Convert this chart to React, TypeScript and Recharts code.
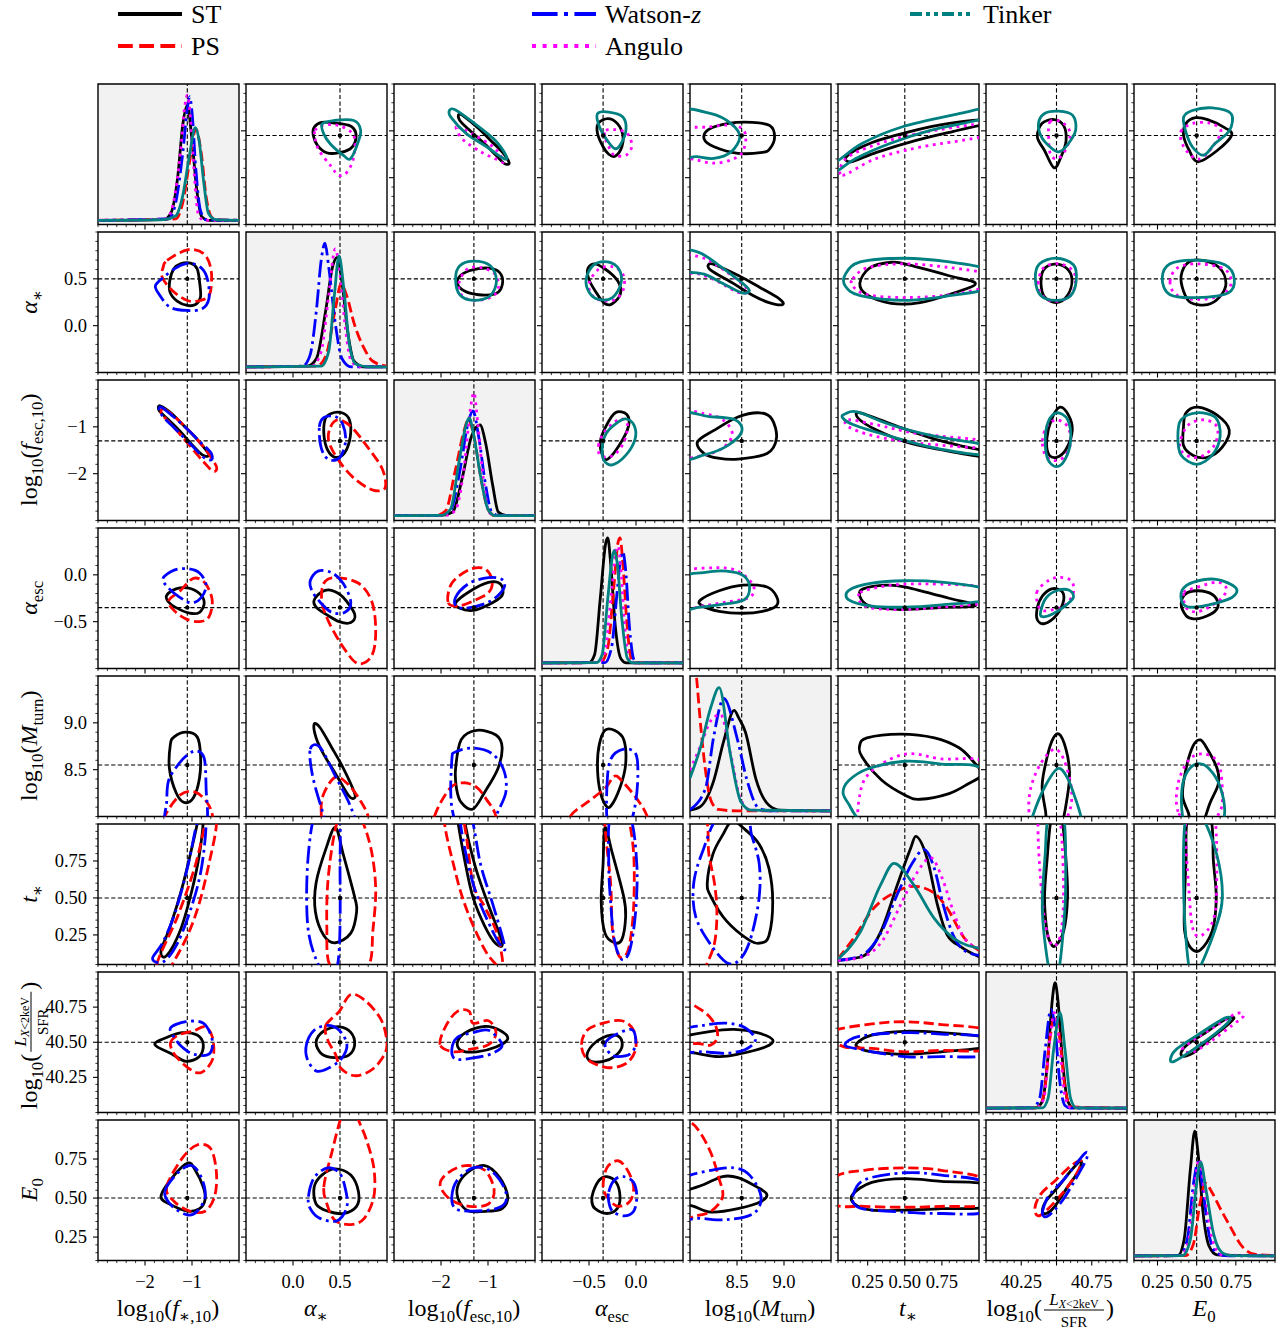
import React from 'react';
import { ComposedChart, Scatter, XAxis, YAxis, ReferenceLine, ReferenceDot, ReferenceArea, CartesianGrid } from 'recharts';

type Pt = [number, number];

// ---------------- parameters (axis ranges, fiducial values, ticks) ----------------
const PARAM_MIN = [-3, -0.5, -3, -1, 8, 0.05, 40, 0.1];
const PARAM_MAX = [0, 1, 0, 0.5, 9.5, 1, 41, 1];
const PARAM_FID = [-1.1, 0.5, -1.3, -0.35, 8.55, 0.5, 40.5, 0.5];
const PARAM_MAJOR = [[-2, -1], [0, 0.5], [-2, -1], [-0.5, 0], [8.5, 9], [0.25, 0.5, 0.75], [40.25, 40.5, 40.75], [0.25, 0.5, 0.75]];
const PARAM_MINOR_STEP = [0.2, 0.1, 0.2, 0.1, 0.1, 0.05, 0.05, 0.05];
const X_TICK_LABELS = [['−2', '−1'], ['0.0', '0.5'], ['−2', '−1'], ['−0.5', '0.0'], ['8.5', '9.0'], ['0.25', '0.50', '0.75'], ['40.25', '', '40.75'], ['0.25', '0.50', '0.75']];
const Y_TICK_LABELS = [['−2', '−1'], ['0.0', '0.5'], ['−2', '−1'], ['−0.5', '0.0'], ['8.5', '9.0'], ['0.25', '0.50', '0.75'], ['40.25', '40.50', '40.75'], ['0.25', '0.50', '0.75']];

// ---------------- 1D marginals (x = parameter value, y = normalised density) ----------------
const ST_1D: Pt[][] = [
  [[-3, 0.03], [-1.6, 0.035], [-1.45, 0.08], [-1.3, 0.35], [-1.2, 0.7], [-1.1, 0.85], [-1.0, 0.6], [-0.9, 0.25], [-0.8, 0.06], [-0.65, 0.03], [0, 0.03]],
  [[-0.5, 0.04], [0.15, 0.045], [0.25, 0.1], [0.35, 0.45], [0.42, 0.75], [0.47, 0.82], [0.52, 0.65], [0.58, 0.3], [0.65, 0.08], [0.75, 0.04], [1.0, 0.04]],
  [[-3, 0.034], [-2.0, 0.036], [-1.75, 0.06], [-1.55, 0.3], [-1.35, 0.6], [-1.17, 0.68], [-1.05, 0.55], [-0.9, 0.25], [-0.78, 0.06], [-0.6, 0.034], [0, 0.034]],
  [[-1, 0.04], [-0.5, 0.042], [-0.44, 0.1], [-0.38, 0.5], [-0.32, 0.9], [-0.3, 0.93], [-0.27, 0.75], [-0.22, 0.3], [-0.16, 0.07], [-0.1, 0.04], [0.5, 0.04]],
  [[8.0, 0.045], [8.11, 0.07], [8.25, 0.25], [8.36, 0.54], [8.47, 0.755], [8.52, 0.7], [8.59, 0.6], [8.7, 0.27], [8.84, 0.08], [8.96, 0.045], [9.5, 0.04]],
  [[0.05, 0.03], [0.21, 0.055], [0.337, 0.23], [0.45, 0.567], [0.54, 0.829], [0.573, 0.912], [0.65, 0.757], [0.72, 0.424], [0.786, 0.21], [0.876, 0.127], [1.0, 0.055]],
  [[40, 0.031], [40.35, 0.033], [40.4, 0.08], [40.44, 0.4], [40.47, 0.8], [40.49, 0.924], [40.51, 0.8], [40.54, 0.4], [40.58, 0.08], [40.62, 0.033], [41, 0.031]],
  [[0.1, 0.033], [0.38, 0.035], [0.42, 0.15], [0.46, 0.65], [0.488, 0.92], [0.51, 0.75], [0.54, 0.35], [0.58, 0.1], [0.63, 0.04], [1.0, 0.033]],
];
const PS_1D: Pt[][] = [
  [[-3, 0.03], [-1.35, 0.04], [-1.2, 0.15], [-1.05, 0.45], [-0.92, 0.68], [-0.8, 0.5], [-0.7, 0.2], [-0.6, 0.06], [-0.5, 0.035], [0, 0.03]],
  [[-0.5, 0.04], [0.25, 0.045], [0.35, 0.12], [0.45, 0.45], [0.51, 0.63], [0.57, 0.55], [0.65, 0.35], [0.75, 0.18], [0.85, 0.08], [1.0, 0.045]],
  [[-3, 0.034], [-2.1, 0.036], [-1.9, 0.07], [-1.7, 0.35], [-1.5, 0.65], [-1.42, 0.72], [-1.3, 0.6], [-1.15, 0.3], [-1.0, 0.08], [-0.85, 0.034], [0, 0.034]],
  [[-1, 0.04], [-0.38, 0.042], [-0.3, 0.15], [-0.24, 0.55], [-0.19, 0.9], [-0.17, 0.93], [-0.14, 0.75], [-0.1, 0.35], [-0.05, 0.07], [0.0, 0.04], [0.5, 0.04]],
  [[8.0, 1.3], [8.06, 1.05], [8.12, 0.6], [8.17, 0.3], [8.22, 0.12], [8.3, 0.05], [8.5, 0.04], [9.5, 0.04]],
  [[0.05, 0.04], [0.157, 0.19], [0.29, 0.4], [0.427, 0.51], [0.56, 0.557], [0.697, 0.51], [0.786, 0.4], [0.9, 0.19], [1.0, 0.1]],
  [[40, 0.031], [40.36, 0.033], [40.41, 0.12], [40.45, 0.5], [40.49, 0.69], [40.52, 0.55], [40.56, 0.18], [40.6, 0.04], [41, 0.031]],
  [[0.1, 0.033], [0.43, 0.035], [0.48, 0.12], [0.52, 0.4], [0.556, 0.55], [0.6, 0.48], [0.66, 0.35], [0.71, 0.25], [0.79, 0.1], [0.87, 0.045], [1.0, 0.035]],
];
const WATSON_1D: Pt[][] = [
  [[-3, 0.03], [-1.5, 0.04], [-1.35, 0.15], [-1.2, 0.5], [-1.1, 0.82], [-1.05, 0.91], [-1.0, 0.8], [-0.92, 0.4], [-0.82, 0.1], [-0.7, 0.035], [0, 0.03]],
  [[-0.5, 0.04], [0.1, 0.045], [0.18, 0.12], [0.25, 0.45], [0.3, 0.8], [0.34, 0.92], [0.38, 0.75], [0.45, 0.35], [0.52, 0.1], [0.62, 0.04], [1.0, 0.04]],
  [[-3, 0.034], [-2.0, 0.036], [-1.8, 0.07], [-1.6, 0.35], [-1.42, 0.7], [-1.32, 0.78], [-1.2, 0.6], [-1.05, 0.25], [-0.92, 0.06], [-0.75, 0.034], [0, 0.034]],
  [[-1, 0.04], [-0.33, 0.042], [-0.26, 0.15], [-0.2, 0.55], [-0.16, 0.8], [-0.14, 0.83], [-0.11, 0.7], [-0.07, 0.3], [-0.02, 0.06], [0.03, 0.04], [0.5, 0.04]],
  [[8.0, 0.048], [8.165, 0.2], [8.25, 0.56], [8.36, 0.84], [8.5, 0.56], [8.61, 0.25], [8.73, 0.06], [8.85, 0.04], [9.5, 0.04]],
  [[0.05, 0.03], [0.2, 0.06], [0.337, 0.22], [0.45, 0.5], [0.55, 0.72], [0.63, 0.82], [0.7, 0.68], [0.76, 0.42], [0.83, 0.2], [0.9, 0.1], [1.0, 0.065]],
  [[40, 0.031], [40.33, 0.033], [40.38, 0.1], [40.42, 0.45], [40.46, 0.733], [40.49, 0.6], [40.52, 0.25], [40.56, 0.05], [40.6, 0.031], [41, 0.031]],
  [[0.1, 0.033], [0.39, 0.035], [0.44, 0.15], [0.48, 0.55], [0.51, 0.7], [0.54, 0.5], [0.58, 0.18], [0.63, 0.05], [0.7, 0.033], [1.0, 0.033]],
];
const ANGULO_1D: Pt[][] = [
  [[-3, 0.03], [-1.55, 0.04], [-1.4, 0.15], [-1.25, 0.5], [-1.15, 0.85], [-1.1, 0.92], [-1.03, 0.75], [-0.95, 0.35], [-0.87, 0.08], [-0.75, 0.03], [0, 0.03]],
  [[-0.5, 0.04], [0.2, 0.045], [0.3, 0.15], [0.38, 0.55], [0.45, 0.88], [0.5, 0.7], [0.56, 0.3], [0.62, 0.08], [0.72, 0.04], [1.0, 0.04]],
  [[-3, 0.034], [-1.9, 0.036], [-1.7, 0.07], [-1.5, 0.4], [-1.38, 0.78], [-1.3, 0.91], [-1.22, 0.7], [-1.1, 0.3], [-0.98, 0.06], [-0.85, 0.034], [0, 0.034]],
  [[-1, 0.04], [-0.4, 0.042], [-0.33, 0.12], [-0.26, 0.55], [-0.21, 0.85], [-0.19, 0.87], [-0.16, 0.7], [-0.12, 0.3], [-0.07, 0.06], [-0.02, 0.04], [0.5, 0.04]],
  [[8.0, 0.33], [8.11, 0.5], [8.22, 0.68], [8.325, 0.726], [8.43, 0.45], [8.54, 0.12], [8.65, 0.045], [9.5, 0.04]],
  [[0.05, 0.03], [0.2, 0.05], [0.35, 0.17], [0.47, 0.42], [0.58, 0.65], [0.675, 0.76], [0.75, 0.62], [0.82, 0.4], [0.9, 0.19], [1.0, 0.115]],
  [[40, 0.031], [40.36, 0.033], [40.41, 0.1], [40.45, 0.5], [40.485, 0.71], [40.52, 0.5], [40.56, 0.12], [40.6, 0.035], [41, 0.031]],
  [[0.1, 0.033], [0.4, 0.035], [0.45, 0.15], [0.49, 0.55], [0.515, 0.72], [0.55, 0.5], [0.6, 0.15], [0.66, 0.04], [1.0, 0.033]],
];
const TINKER_1D: Pt[][] = [
  [[-3, 0.03], [-1.6, 0.035], [-1.35, 0.06], [-1.2, 0.2], [-1.05, 0.5], [-0.93, 0.69], [-0.85, 0.6], [-0.75, 0.3], [-0.65, 0.08], [-0.5, 0.035], [0, 0.03]],
  [[-0.5, 0.04], [0.3, 0.045], [0.38, 0.15], [0.44, 0.55], [0.49, 0.83], [0.54, 0.6], [0.6, 0.2], [0.67, 0.06], [0.8, 0.04], [1.0, 0.04]],
  [[-3, 0.034], [-2.0, 0.036], [-1.8, 0.08], [-1.6, 0.45], [-1.45, 0.7], [-1.4, 0.73], [-1.3, 0.6], [-1.15, 0.3], [-1.0, 0.08], [-0.85, 0.034], [0, 0.034]],
  [[-1, 0.04], [-0.42, 0.042], [-0.36, 0.1], [-0.3, 0.5], [-0.25, 0.8], [-0.23, 0.84], [-0.2, 0.75], [-0.15, 0.35], [-0.09, 0.07], [-0.03, 0.04], [0.5, 0.04]],
  [[8.0, 0.274], [8.11, 0.488], [8.22, 0.774], [8.31, 0.917], [8.43, 0.44], [8.54, 0.107], [8.65, 0.045], [9.5, 0.04]],
  [[0.05, 0.04], [0.2, 0.23], [0.337, 0.567], [0.427, 0.72], [0.56, 0.567], [0.697, 0.33], [0.83, 0.186], [1.0, 0.115]],
  [[40, 0.031], [40.4, 0.033], [40.44, 0.1], [40.48, 0.45], [40.525, 0.71], [40.56, 0.45], [40.6, 0.1], [40.64, 0.033], [41, 0.031]],
  [[0.1, 0.033], [0.41, 0.035], [0.46, 0.15], [0.5, 0.55], [0.525, 0.7], [0.56, 0.5], [0.61, 0.18], [0.67, 0.05], [0.73, 0.035], [1.0, 0.033]],
];

// ---------------- 2D contours, keyed "row-col" (x = column parameter, y = row parameter) ----------------
// ST: lower-triangle panels (the upper triangle shows the same contour transposed)
const ST_2D: Record<string, Pt[]> = {
  '1-0': [[-1.245, 0.66], [-1.032, 0.667], [-0.89, 0.607], [-0.834, 0.447], [-0.82, 0.304], [-0.926, 0.226], [-1.1, 0.216], [-1.316, 0.262], [-1.468, 0.358], [-1.472, 0.482], [-1.387, 0.607]],
  '2-0': [[-1.68, -0.55], [-1.45, -0.7], [-1.2, -0.95], [-0.95, -1.2], [-0.7, -1.5], [-0.65, -1.62], [-0.78, -1.6], [-1.0, -1.38], [-1.25, -1.1], [-1.5, -0.85], [-1.7, -0.65]],
  '2-1': [[0.34, -0.85], [0.4, -0.72], [0.52, -0.7], [0.6, -0.85], [0.61, -1.2], [0.55, -1.55], [0.45, -1.65], [0.37, -1.5], [0.33, -1.2]],
  '3-0': [[-1.54, -0.22], [-1.34, -0.15], [-1.09, -0.14], [-0.84, -0.2], [-0.74, -0.3], [-0.84, -0.4], [-1.05, -0.41], [-1.34, -0.35], [-1.5, -0.29]],
  '3-1': [[0.225, -0.27], [0.307, -0.18], [0.41, -0.165], [0.533, -0.24], [0.656, -0.42], [0.615, -0.51], [0.492, -0.5], [0.349, -0.42], [0.246, -0.345]],
  '3-2': [[-1.69, -0.3], [-1.4, -0.18], [-0.99, -0.08], [-0.73, -0.1], [-0.7, -0.22], [-0.99, -0.32], [-1.32, -0.38], [-1.61, -0.355]],
  '4-0': [[-1.46, 8.77], [-1.38, 8.85], [-1.13, 8.9], [-0.89, 8.85], [-0.82, 8.665], [-0.84, 8.41], [-0.97, 8.2], [-1.17, 8.15], [-1.34, 8.256], [-1.48, 8.51]],
  '4-1': [[0.225, 8.985], [0.287, 8.95], [0.41, 8.74], [0.533, 8.52], [0.648, 8.27], [0.656, 8.2], [0.594, 8.22], [0.451, 8.46], [0.328, 8.66], [0.246, 8.84]],
  '4-2': [[-1.69, 8.51], [-1.57, 8.82], [-1.24, 8.92], [-0.83, 8.87], [-0.7, 8.74], [-0.79, 8.51], [-1.07, 8.26], [-1.32, 8.08], [-1.57, 8.15], [-1.67, 8.3]],
  '4-3': [[-0.39, 8.77], [-0.33, 8.92], [-0.23, 8.92], [-0.13, 8.82], [-0.11, 8.56], [-0.17, 8.31], [-0.27, 8.11], [-0.33, 8.13], [-0.39, 8.31], [-0.41, 8.56]],
  '5-0': [[-1.66, 0.14], [-1.46, 0.31], [-1.21, 0.57], [-1.01, 0.83], [-0.89, 1.0], [-0.85, 1.1], [-0.76, 1.05], [-0.84, 0.8], [-1.01, 0.54], [-1.25, 0.28], [-1.54, 0.11]],
  '5-1': [[0.451, 0.976], [0.533, 0.798], [0.656, 0.506], [0.677, 0.408], [0.615, 0.262], [0.451, 0.197], [0.328, 0.246], [0.238, 0.408], [0.246, 0.603], [0.349, 0.83]],
  '5-2': [[-1.65, 1.05], [-1.48, 0.73], [-1.32, 0.505], [-1.07, 0.31], [-0.83, 0.19], [-0.7, 0.2], [-0.99, 0.45], [-1.24, 0.68], [-1.4, 0.87], [-1.53, 1.05]],
  '5-3': [[-0.33, 0.976], [-0.25, 0.798], [-0.13, 0.506], [-0.11, 0.376], [-0.15, 0.22], [-0.23, 0.197], [-0.33, 0.262], [-0.37, 0.473], [-0.35, 0.733]],
  '5-4': [[8.45, 1.02], [8.59, 0.96], [8.736, 0.863], [8.84, 0.7], [8.88, 0.473], [8.84, 0.245], [8.756, 0.196], [8.634, 0.213], [8.39, 0.343], [8.225, 0.506], [8.184, 0.603], [8.245, 0.798], [8.35, 0.928]],
  '6-0': [[-1.79, 40.483], [-1.54, 40.534], [-1.21, 40.568], [-0.89, 40.551], [-0.76, 40.483], [-0.84, 40.398], [-1.13, 40.364], [-1.42, 40.415]],
  '6-1': [[0.246, 40.5], [0.328, 40.58], [0.492, 40.61], [0.615, 40.57], [0.656, 40.483], [0.594, 40.408], [0.451, 40.39], [0.307, 40.415]],
  '6-2': [[-1.65, 40.5], [-1.48, 40.568], [-1.07, 40.612], [-0.75, 40.585], [-0.58, 40.524], [-0.83, 40.466], [-1.24, 40.432], [-1.57, 40.442]],
  '6-3': [[-0.52, 40.415], [-0.43, 40.5], [-0.27, 40.551], [-0.17, 40.534], [-0.15, 40.466], [-0.23, 40.398], [-0.35, 40.364], [-0.48, 40.364]],
  '6-4': [[7.9, 40.53], [8.225, 40.578], [8.47, 40.592], [8.715, 40.568], [8.88, 40.517], [8.8, 40.466], [8.51, 40.415], [8.306, 40.398], [8.06, 40.422], [7.9, 40.44]],
  '6-5': [[0.175, 40.49], [0.278, 40.551], [0.5, 40.578], [0.746, 40.568], [1.05, 40.534], [1.05, 40.466], [0.746, 40.432], [0.5, 40.415], [0.278, 40.432], [0.2, 40.456]],
  '7-0': [[-1.66, 0.509], [-1.42, 0.631], [-1.09, 0.724], [-0.93, 0.678], [-0.76, 0.57], [-0.72, 0.493], [-0.84, 0.432], [-1.09, 0.416], [-1.42, 0.453]],
  '7-1': [[0.225, 0.57], [0.307, 0.647], [0.451, 0.687], [0.615, 0.647], [0.697, 0.539], [0.676, 0.447], [0.533, 0.401], [0.369, 0.416], [0.246, 0.462]],
  '7-2': [[-1.65, 0.57], [-1.44, 0.662], [-1.07, 0.708], [-0.75, 0.631], [-0.58, 0.509], [-0.7, 0.432], [-0.99, 0.416], [-1.4, 0.416], [-1.61, 0.478]],
  '7-3': [[-0.455, 0.54], [-0.39, 0.616], [-0.31, 0.637], [-0.21, 0.6], [-0.17, 0.509], [-0.2, 0.432], [-0.31, 0.401], [-0.435, 0.432], [-0.47, 0.478]],
  '7-4': [[7.9, 0.53], [8.143, 0.585], [8.347, 0.638], [8.51, 0.631], [8.715, 0.57], [8.817, 0.524], [8.756, 0.478], [8.51, 0.432], [8.225, 0.41], [8.04, 0.447], [7.9, 0.47]],
  '7-5': [[0.149, 0.524], [0.278, 0.6], [0.5, 0.625], [0.746, 0.607], [1.05, 0.585], [1.05, 0.447], [0.746, 0.432], [0.5, 0.423], [0.278, 0.423], [0.162, 0.462]],
  '7-6': [[40.4, 0.416], [40.428, 0.484], [40.51, 0.57], [40.605, 0.678], [40.673, 0.739], [40.66, 0.678], [40.578, 0.57], [40.482, 0.44], [40.428, 0.401]],
};
const PS_2D: Record<string, Pt[]> = {
  '1-0': [[-1.53, 0.696], [-1.1, 0.81], [-0.749, 0.767], [-0.592, 0.589], [-0.62, 0.34], [-0.82, 0.269], [-1.1, 0.269], [-1.42, 0.376], [-1.634, 0.518], [-1.613, 0.624]],
  '2-0': [[-1.6, -0.62], [-1.35, -0.8], [-1.0, -1.15], [-0.7, -1.5], [-0.48, -1.85], [-0.55, -1.95], [-0.75, -1.75], [-1.05, -1.4], [-1.35, -1.05], [-1.6, -0.78], [-1.66, -0.68]],
  '2-1': [[0.4, -1.0], [0.48, -0.85], [0.62, -1.0], [0.8, -1.45], [0.95, -1.9], [0.98, -2.3], [0.85, -2.35], [0.65, -2.1], [0.48, -1.7], [0.38, -1.3]],
  '3-0': [[-1.5, -0.28], [-1.25, -0.17], [-0.97, -0.037], [-0.72, -0.09], [-0.57, -0.27], [-0.64, -0.45], [-0.84, -0.5], [-1.13, -0.47], [-1.36, -0.39]],
  '3-1': [[0.328, -0.09], [0.451, -0.03], [0.697, -0.09], [0.84, -0.29], [0.88, -0.6], [0.84, -0.86], [0.697, -0.95], [0.553, -0.8], [0.389, -0.52], [0.307, -0.29]],
  '3-2': [[-1.85, -0.29], [-1.77, -0.09], [-1.4, 0.055], [-1.07, 0.065], [-0.91, -0.06], [-0.99, -0.19], [-1.32, -0.28], [-1.65, -0.335]],
  '4-0': [[-1.62, 7.8], [-1.58, 8.0], [-1.25, 8.23], [-0.93, 8.26], [-0.68, 8.15], [-0.56, 8.0], [-0.5, 7.7], [-1.0, 7.5], [-1.6, 7.6]],
  '4-1': [[0.3, 8.05], [0.33, 8.25], [0.451, 8.42], [0.58, 8.35], [0.697, 8.2], [0.8, 8.0], [0.85, 7.7], [0.55, 7.5], [0.35, 7.7]],
  '4-2': [[-2.14, 8.0], [-1.81, 8.3], [-1.52, 8.36], [-1.24, 8.31], [-1.03, 8.18], [-0.83, 8.0], [-0.8, 7.7], [-1.5, 7.5], [-2.2, 7.7]],
  '4-3': [[-0.7, 8.0], [-0.52, 8.15], [-0.33, 8.3], [-0.23, 8.43], [-0.15, 8.38], [0.016, 8.18], [0.12, 8.0], [0.2, 7.7], [-0.3, 7.5], [-0.8, 7.7]],
  '5-0': [[-1.75, 0.05], [-1.3, 0.38], [-0.93, 0.72], [-0.72, 1.0], [-0.6, 1.1], [-0.48, 1.0], [-0.64, 0.73], [-0.84, 0.47], [-1.09, 0.25], [-1.42, 0.05], [-1.6, -0.05]],
  '5-1': [[0.389, 0.05], [0.36, 0.3], [0.37, 0.6], [0.43, 0.9], [0.5, 1.05], [0.65, 1.1], [0.75, 1.0], [0.84, 0.8], [0.88, 0.55], [0.85, 0.28], [0.81, 0.05], [0.6, -0.05]],
  '5-2': [[-1.93, 1.05], [-1.69, 0.67], [-1.44, 0.41], [-1.07, 0.15], [-0.83, 0.05], [-0.7, 0.0], [-0.7, 0.1], [-0.83, 0.28], [-1.07, 0.44], [-1.32, 0.6], [-1.55, 1.05]],
  '5-3': [[-0.33, 1.05], [-0.27, 0.6], [-0.25, 0.28], [-0.19, 0.12], [-0.13, 0.1], [-0.07, 0.18], [-0.025, 0.44], [-0.025, 0.8], [-0.09, 1.05], [-0.2, 1.1]],
  '5-4': [[8.16, 1.05], [8.2, 0.8], [8.26, 0.6], [8.286, 0.41], [8.266, 0.213], [8.2, 0.083], [8.1, -0.02], [7.9, -0.05], [7.9, 1.05]],
  '6-0': [[-1.46, 40.49], [-1.3, 40.55], [-0.97, 40.58], [-0.72, 40.61], [-0.56, 40.53], [-0.56, 40.38], [-0.8, 40.285], [-1.05, 40.31], [-1.34, 40.4]],
  '6-1': [[0.349, 40.62], [0.492, 40.72], [0.615, 40.84], [0.779, 40.79], [0.943, 40.653], [1.0, 40.483], [0.943, 40.38], [0.82, 40.296], [0.656, 40.262], [0.512, 40.313], [0.451, 40.415], [0.369, 40.517]],
  '6-2': [[-2.02, 40.483], [-1.89, 40.62], [-1.65, 40.72], [-1.4, 40.72], [-1.32, 40.636], [-0.99, 40.653], [-0.83, 40.568], [-0.99, 40.483], [-1.4, 40.449], [-1.73, 40.432]],
  '6-3': [[-0.58, 40.483], [-0.52, 40.585], [-0.35, 40.636], [-0.15, 40.653], [-0.025, 40.585], [-0.004, 40.449], [-0.11, 40.347], [-0.31, 40.32], [-0.52, 40.38]],
  '6-4': [[7.9, 40.78], [8.143, 40.72], [8.27, 40.62], [8.29, 40.53], [8.22, 40.48], [8.1, 40.49], [7.9, 40.52]],
  '6-5': [[0.03, 40.585], [0.278, 40.63], [0.5, 40.646], [0.746, 40.626], [1.05, 40.585], [1.05, 40.449], [0.746, 40.442], [0.5, 40.432], [0.278, 40.456], [0.097, 40.466], [0.03, 40.517]],
  '7-0': [[-1.54, 0.57], [-1.21, 0.754], [-0.89, 0.84], [-0.6, 0.816], [-0.48, 0.662], [-0.52, 0.509], [-0.72, 0.416], [-1.05, 0.416], [-1.38, 0.478]],
  '7-1': [[0.328, 0.57], [0.41, 0.785], [0.533, 1.05], [0.65, 1.1], [0.697, 1.0], [0.779, 0.877], [0.86, 0.693], [0.86, 0.509], [0.758, 0.37], [0.615, 0.33], [0.451, 0.355], [0.369, 0.447]],
  '7-2': [[-2.02, 0.585], [-1.85, 0.662], [-1.48, 0.708], [-1.07, 0.678], [-0.87, 0.555], [-0.99, 0.462], [-1.4, 0.447], [-1.81, 0.493]],
  '7-3': [[-0.35, 0.57], [-0.31, 0.693], [-0.19, 0.739], [-0.09, 0.678], [-0.025, 0.57], [-0.066, 0.478], [-0.19, 0.447], [-0.29, 0.493]],
  '7-4': [[7.9, 1.0], [8.02, 0.98], [8.12, 0.908], [8.225, 0.785], [8.306, 0.631], [8.347, 0.509], [8.225, 0.416], [8.06, 0.386], [7.9, 0.38], [7.8, 0.7]],
  '7-5': [[0.03, 0.631], [0.226, 0.678], [0.5, 0.693], [0.746, 0.678], [1.05, 0.616], [1.05, 0.462], [0.746, 0.447], [0.5, 0.441], [0.226, 0.447], [0.03, 0.462]],
  '7-6': [[40.346, 0.432], [40.387, 0.524], [40.496, 0.616], [40.605, 0.708], [40.673, 0.739], [40.646, 0.662], [40.55, 0.539], [40.441, 0.432], [40.373, 0.386]],
};
const WATSON_2D: Record<string, Pt[]> = {
  '1-0': [[-1.777, 0.429], [-1.706, 0.34], [-1.468, 0.198], [-1.1, 0.162], [-0.784, 0.18], [-0.64, 0.287], [-0.664, 0.482], [-0.784, 0.607], [-1.032, 0.667], [-1.316, 0.624], [-1.6, 0.518]],
  '2-0': [[-1.65, -0.58], [-1.4, -0.78], [-1.1, -1.05], [-0.8, -1.35], [-0.6, -1.55], [-0.58, -1.7], [-0.75, -1.65], [-1.05, -1.35], [-1.35, -1.05], [-1.6, -0.8], [-1.7, -0.65]],
  '2-1': [[0.28, -1.0], [0.33, -0.8], [0.45, -0.78], [0.53, -0.95], [0.56, -1.3], [0.5, -1.65], [0.38, -1.7], [0.3, -1.45]],
  '3-0': [[-1.62, -0.04], [-1.38, 0.05], [-1.09, 0.065], [-0.84, 0.02], [-0.7, -0.11], [-0.8, -0.24], [-1.01, -0.3], [-1.26, -0.24], [-1.5, -0.14]],
  '3-1': [[0.184, -0.06], [0.266, 0.04], [0.41, 0.024], [0.533, -0.09], [0.615, -0.29], [0.553, -0.4], [0.41, -0.4], [0.287, -0.29], [0.2, -0.165]],
  '3-2': [[-1.69, -0.24], [-1.4, -0.09], [-0.99, -0.03], [-0.7, -0.05], [-0.66, -0.14], [-0.91, -0.27], [-1.32, -0.345], [-1.65, -0.345]],
  '4-0': [[-1.56, 7.9], [-1.54, 8.15], [-1.5, 8.38], [-1.3, 8.55], [-1.09, 8.66], [-0.9, 8.7], [-0.74, 8.62], [-0.7, 8.3], [-0.7, 7.9], [-1.1, 7.7]],
  '4-1': [[0.184, 8.72], [0.287, 8.74], [0.451, 8.43], [0.615, 8.1], [0.7, 7.8], [0.6, 7.7], [0.4, 7.8], [0.3, 8.1], [0.205, 8.45]],
  '4-2': [[-1.77, 8.6], [-1.69, 8.69], [-1.32, 8.73], [-0.91, 8.67], [-0.66, 8.49], [-0.62, 8.26], [-0.79, 8.05], [-1.0, 7.8], [-1.5, 7.75], [-1.77, 8.1]],
  '4-3': [[-0.31, 8.3], [-0.27, 8.61], [-0.13, 8.72], [-0.004, 8.67], [0.02, 8.46], [-0.004, 8.15], [-0.07, 7.9], [-0.2, 7.7], [-0.3, 7.9]],
  '5-0': [[-1.84, 0.09], [-1.62, 0.2], [-1.36, 0.4], [-1.1, 0.7], [-0.9, 1.0], [-0.78, 1.1], [-0.7, 1.0], [-0.8, 0.7], [-1.0, 0.45], [-1.3, 0.2], [-1.6, 0.07]],
  '5-1': [[0.225, 1.05], [0.164, 0.8], [0.145, 0.5], [0.17, 0.25], [0.27, 0.05], [0.4, -0.05], [0.475, 0.05], [0.5, 0.3], [0.5, 0.7], [0.49, 1.05], [0.35, 1.15]],
  '5-2': [[-1.6, 1.05], [-1.32, 0.6], [-0.91, 0.28], [-0.66, 0.15], [-0.68, 0.22], [-0.91, 0.47], [-1.16, 0.73], [-1.36, 1.05]],
  '5-3': [[-0.27, 1.05], [-0.066, 1.05], [0.008, 0.733], [-0.004, 0.408], [-0.066, 0.148], [-0.15, 0.083], [-0.23, 0.213], [-0.27, 0.473], [-0.29, 0.733]],
  '5-4': [[8.306, 1.05], [8.143, 0.83], [8.04, 0.603], [8.06, 0.375], [8.225, 0.18], [8.41, 0.056], [8.55, 0.099], [8.654, 0.245], [8.736, 0.506], [8.736, 0.733], [8.654, 0.928], [8.6, 1.05]],
  '6-0': [[-1.46, 40.6], [-1.13, 40.646], [-0.76, 40.636], [-0.57, 40.517], [-0.64, 40.415], [-0.97, 40.415], [-1.21, 40.466], [-1.34, 40.517]],
  '6-1': [[0.143, 40.483], [0.225, 40.585], [0.369, 40.62], [0.492, 40.585], [0.574, 40.483], [0.512, 40.38], [0.369, 40.313], [0.246, 40.296], [0.152, 40.38]],
  '6-2': [[-1.77, 40.449], [-1.65, 40.534], [-1.32, 40.568], [-0.99, 40.585], [-0.7, 40.483], [-0.91, 40.42], [-1.32, 40.388], [-1.69, 40.38]],
  '6-3': [[-0.33, 40.483], [-0.27, 40.534], [-0.11, 40.585], [-0.025, 40.58], [-0.004, 40.483], [-0.066, 40.415], [-0.19, 40.398], [-0.27, 40.415]],
  '6-4': [[7.9, 40.58], [8.143, 40.62], [8.39, 40.636], [8.59, 40.602], [8.695, 40.517], [8.59, 40.449], [8.39, 40.422], [8.143, 40.432], [7.9, 40.44]],
  '6-5': [[0.097, 40.483], [0.2, 40.544], [0.5, 40.568], [0.746, 40.558], [1.05, 40.534], [1.05, 40.408], [0.746, 40.398], [0.5, 40.398], [0.2, 40.449]],
  '7-0': [[-1.58, 0.54], [-1.3, 0.662], [-1.01, 0.708], [-0.8, 0.631], [-0.72, 0.509], [-0.89, 0.416], [-1.09, 0.392], [-1.42, 0.447]],
  '7-1': [[0.164, 0.509], [0.225, 0.631], [0.369, 0.693], [0.492, 0.662], [0.553, 0.57], [0.574, 0.447], [0.471, 0.355], [0.287, 0.37], [0.184, 0.432]],
  '7-2': [[-1.77, 0.509], [-1.65, 0.616], [-1.32, 0.693], [-0.95, 0.678], [-0.66, 0.57], [-0.62, 0.478], [-0.83, 0.432], [-1.32, 0.416], [-1.69, 0.432]],
  '7-3': [[-0.29, 0.54], [-0.23, 0.616], [-0.13, 0.637], [-0.025, 0.6], [0.008, 0.509], [-0.025, 0.416], [-0.13, 0.386], [-0.25, 0.416], [-0.29, 0.478]],
  '7-4': [[7.9, 0.62], [8.225, 0.678], [8.47, 0.693], [8.634, 0.647], [8.756, 0.509], [8.674, 0.401], [8.388, 0.361], [8.1, 0.37], [7.9, 0.37], [7.8, 0.5]],
  '7-5': [[0.149, 0.509], [0.226, 0.616], [0.5, 0.662], [0.746, 0.647], [1.05, 0.595], [1.05, 0.416], [0.746, 0.401], [0.5, 0.41], [0.278, 0.423], [0.175, 0.447]],
  '7-6': [[40.4, 0.401], [40.441, 0.509], [40.55, 0.616], [40.7, 0.785], [40.714, 0.754], [40.632, 0.616], [40.537, 0.478], [40.441, 0.386]],
};
// Angulo and Tinker: upper-triangle panels
const ANGULO_2D: Record<string, Pt[]> = {
  '0-1': [[0.235, -0.99], [0.31, -0.887], [0.487, -0.887], [0.646, -1.1], [0.646, -1.56], [0.575, -1.88], [0.487, -1.95], [0.398, -1.74], [0.278, -1.42], [0.235, -1.17]],
  '0-2': [[-1.64, -0.918], [-1.28, -1.094], [-0.85, -1.377], [-0.67, -1.66], [-0.79, -1.62], [-1.15, -1.45], [-1.52, -1.2], [-1.66, -0.988]],
  '0-3': [[-0.32, -0.988], [-0.17, -0.988], [-0.077, -1.094], [-0.046, -1.34], [-0.107, -1.52], [-0.23, -1.52], [-0.29, -1.34], [-0.33, -1.13]],
  '0-4': [[7.9, -0.99], [8.19, -0.918], [8.467, -0.882], [8.589, -1.06], [8.56, -1.45], [8.437, -1.62], [8.255, -1.69], [8.07, -1.62], [7.9, -1.5]],
  '0-5': [[0.08, -1.95], [0.3, -1.6], [0.6, -1.35], [1.05, -1.1], [1.05, -0.85], [0.6, -1.05], [0.3, -1.3], [0.1, -1.6]],
  '0-6': [[40.453, -0.81], [40.534, -0.81], [40.595, -1.02], [40.575, -1.34], [40.514, -1.59], [40.46, -1.52], [40.445, -1.2]],
  '0-7': [[0.399, -1.02], [0.472, -0.847], [0.581, -0.833], [0.654, -0.988], [0.617, -1.27], [0.545, -1.55], [0.49, -1.59], [0.417, -1.34]],
  '1-2': [[-1.62, 0.45], [-1.45, 0.6], [-1.15, 0.62], [-0.85, 0.55], [-0.78, 0.4], [-0.95, 0.3], [-1.3, 0.27], [-1.55, 0.32]],
  '1-3': [[-0.5, 0.45], [-0.4, 0.6], [-0.25, 0.63], [-0.14, 0.55], [-0.13, 0.4], [-0.22, 0.28], [-0.37, 0.27], [-0.47, 0.33]],
  '1-4': [[7.9, 0.75], [8.15, 0.72], [8.35, 0.6], [8.55, 0.45], [8.62, 0.36], [8.5, 0.36], [8.3, 0.47], [8.1, 0.55], [7.9, 0.58]],
  '1-5': [[0.15, 0.5], [0.25, 0.62], [0.5, 0.66], [0.8, 0.62], [1.05, 0.55], [1.05, 0.42], [0.8, 0.33], [0.5, 0.3], [0.25, 0.33], [0.15, 0.42]],
  '1-6': [[40.37, 0.45], [40.41, 0.62], [40.52, 0.66], [40.62, 0.58], [40.63, 0.42], [40.58, 0.3], [40.48, 0.26], [40.4, 0.32]],
  '1-7': [[0.33, 0.47], [0.38, 0.62], [0.52, 0.66], [0.68, 0.6], [0.72, 0.45], [0.65, 0.32], [0.5, 0.28], [0.37, 0.33]],
  '2-3': [[-0.4, -1.4], [-0.34, -1.12], [-0.23, -0.9], [-0.15, -0.83], [-0.09, -0.97], [-0.13, -1.33], [-0.22, -1.58], [-0.32, -1.65], [-0.39, -1.58]],
  '2-4': [[7.9, -0.72], [8.15, -0.72], [8.35, -0.85], [8.45, -1.15], [8.35, -1.45], [8.15, -1.6], [7.9, -1.6]],
  '2-5': [[0.12, -0.85], [0.3, -0.95], [0.6, -1.15], [1.05, -1.3], [1.05, -1.45], [0.6, -1.35], [0.3, -1.2], [0.12, -1.0]],
  '2-6': [[40.4, -1.3], [40.43, -1.0], [40.5, -0.85], [40.58, -1.0], [40.6, -1.35], [40.55, -1.65], [40.48, -1.72], [40.42, -1.6]],
  '2-7': [[0.4, -1.25], [0.45, -0.95], [0.55, -0.85], [0.63, -1.0], [0.62, -1.35], [0.55, -1.6], [0.47, -1.65], [0.4, -1.5]],
  '3-4': [[7.9, 0.01], [8.265, 0.075], [8.51, 0.039], [8.674, -0.115], [8.634, -0.24], [8.388, -0.29], [8.143, -0.33], [7.9, -0.35]],
  '3-5': [[0.2, -0.19], [0.33, -0.13], [0.5, -0.1], [0.746, -0.1], [1.05, -0.14], [1.05, -0.29], [0.746, -0.345], [0.5, -0.37], [0.278, -0.355], [0.2, -0.29]],
  '3-6': [[40.36, -0.19], [40.441, -0.063], [40.523, -0.027], [40.605, -0.063], [40.62, -0.19], [40.564, -0.32], [40.482, -0.37], [40.387, -0.37]],
  '3-7': [[0.419, -0.19], [0.492, -0.14], [0.627, -0.078], [0.689, -0.14], [0.664, -0.242], [0.578, -0.345], [0.492, -0.396], [0.431, -0.345]],
  '4-5': [[0.213, 7.9], [0.2, 8.256], [0.278, 8.486], [0.5, 8.666], [0.746, 8.615], [1.05, 8.56], [1.05, 8.0], [0.9, 7.9], [0.5, 7.75]],
  '4-6': [[40.305, 8.05], [40.318, 8.307], [40.387, 8.563], [40.482, 8.717], [40.55, 8.614], [40.605, 8.307], [40.591, 8.05], [40.5, 7.85], [40.35, 7.9]],
  '4-7': [[0.382, 8.05], [0.382, 8.358], [0.456, 8.614], [0.554, 8.666], [0.64, 8.563], [0.664, 8.256], [0.64, 8.025], [0.5, 7.85]],
  '5-6': [[40.37, 1.05], [40.4, 0.473], [40.455, 0.2], [40.523, 0.23], [40.55, 0.54], [40.523, 1.05], [40.45, 1.15]],
  '5-7': [[0.431, 1.05], [0.456, 0.473], [0.48, 0.278], [0.53, 0.245], [0.603, 0.343], [0.627, 0.538], [0.615, 1.05], [0.52, 1.15]],
  '6-7': [[0.407, 40.449], [0.505, 40.534], [0.627, 40.619], [0.75, 40.704], [0.799, 40.687], [0.725, 40.619], [0.603, 40.517], [0.48, 40.432]],
};
const TINKER_2D: Record<string, Pt[]> = {
  '0-1': [[0.31, -0.85], [0.433, -0.78], [0.646, -0.78], [0.72, -0.99], [0.68, -1.314], [0.61, -1.6], [0.54, -1.53], [0.398, -1.28], [0.327, -1.065]],
  '0-2': [[-1.82, -0.565], [-1.7, -0.55], [-1.28, -0.847], [-0.85, -1.2], [-0.61, -1.54], [-0.67, -1.59], [-1.03, -1.34], [-1.46, -1.06], [-1.79, -0.706]],
  '0-3': [[-0.41, -0.635], [-0.29, -0.6], [-0.14, -0.706], [-0.107, -0.988], [-0.17, -1.306], [-0.23, -1.377], [-0.32, -1.165], [-0.395, -0.88]],
  '0-4': [[7.9, -0.6], [8.225, -0.635], [8.437, -0.847], [8.53, -1.13], [8.437, -1.45], [8.255, -1.59], [8.07, -1.55], [7.9, -1.5]],
  '0-5': [[-0.02, -1.75], [0.058, -1.62], [0.212, -1.27], [0.48, -0.918], [0.865, -0.635], [1.05, -0.52], [1.05, -0.72], [0.673, -0.99], [0.4, -1.27], [0.17, -1.59], [0.05, -1.85], [-0.02, -1.95]],
  '0-6': [[40.372, -0.847], [40.413, -0.635], [40.514, -0.58], [40.615, -0.67], [40.636, -0.99], [40.575, -1.31], [40.514, -1.45], [40.453, -1.34], [40.393, -1.13]],
  '0-7': [[0.417, -0.706], [0.472, -0.565], [0.6, -0.51], [0.72, -0.635], [0.71, -0.99], [0.617, -1.27], [0.545, -1.52], [0.472, -1.34], [0.428, -0.99]],
  '1-2': [[-1.69, 0.5], [-1.6, 0.64], [-1.3, 0.69], [-0.95, 0.64], [-0.82, 0.48], [-0.95, 0.32], [-1.3, 0.27], [-1.6, 0.33]],
  '1-3': [[-0.53, 0.5], [-0.45, 0.65], [-0.3, 0.68], [-0.18, 0.6], [-0.16, 0.45], [-0.25, 0.3], [-0.4, 0.28], [-0.5, 0.36]],
  '1-4': [[7.9, 0.8], [8.1, 0.78], [8.3, 0.65], [8.5, 0.5], [8.63, 0.38], [8.55, 0.35], [8.35, 0.45], [8.15, 0.55], [7.9, 0.6]],
  '1-5': [[0.1, 0.55], [0.2, 0.68], [0.5, 0.72], [0.8, 0.68], [1.05, 0.6], [1.05, 0.4], [0.8, 0.32], [0.5, 0.27], [0.2, 0.32], [0.1, 0.42]],
  '1-6': [[40.35, 0.5], [40.38, 0.66], [40.5, 0.72], [40.62, 0.65], [40.64, 0.48], [40.6, 0.32], [40.5, 0.27], [40.39, 0.32]],
  '1-7': [[0.28, 0.5], [0.33, 0.66], [0.5, 0.7], [0.68, 0.65], [0.74, 0.5], [0.7, 0.35], [0.5, 0.3], [0.33, 0.33]],
  '2-3': [[-0.36, -1.47], [-0.32, -1.15], [-0.22, -0.94], [-0.11, -0.83], [-0.02, -0.97], [-0.01, -1.26], [-0.11, -1.61], [-0.25, -1.81], [-0.34, -1.72]],
  '2-4': [[7.9, -0.75], [8.2, -0.78], [8.48, -0.85], [8.55, -1.1], [8.4, -1.4], [8.15, -1.6], [7.9, -1.65]],
  '2-5': [[0.1, -0.72], [0.18, -0.68], [0.4, -0.95], [0.7, -1.2], [1.05, -1.4], [1.05, -1.6], [0.7, -1.45], [0.4, -1.2], [0.15, -0.95], [0.08, -0.8]],
  '2-6': [[40.42, -1.3], [40.44, -0.9], [40.5, -0.7], [40.58, -0.85], [40.6, -1.3], [40.56, -1.7], [40.5, -1.85], [40.44, -1.7]],
  '2-7': [[0.38, -1.2], [0.4, -0.85], [0.5, -0.7], [0.62, -0.8], [0.65, -1.2], [0.6, -1.6], [0.5, -1.8], [0.4, -1.6]],
  '3-4': [[7.9, -0.04], [8.143, 0.024], [8.388, 0.039], [8.572, -0.012], [8.634, -0.14], [8.572, -0.268], [8.306, -0.32], [8.1, -0.345], [7.9, -0.36]],
  '3-5': [[0.123, -0.165], [0.278, -0.089], [0.5, -0.063], [0.746, -0.078], [1.05, -0.15], [1.05, -0.27], [0.746, -0.32], [0.5, -0.345], [0.278, -0.335], [0.123, -0.268]],
  '3-6': [[40.387, -0.396], [40.428, -0.242], [40.51, -0.165], [40.59, -0.165], [40.62, -0.242], [40.55, -0.345], [40.469, -0.42], [40.4, -0.447]],
  '3-7': [[0.407, -0.165], [0.48, -0.078], [0.627, -0.048], [0.75, -0.14], [0.725, -0.242], [0.578, -0.32], [0.456, -0.345], [0.407, -0.293]],
  '4-5': [[0.084, 8.256], [0.123, 8.384], [0.252, 8.51], [0.5, 8.59], [0.746, 8.56], [1.05, 8.46], [1.05, 7.7], [0.4, 7.7], [0.2, 7.95], [0.123, 8.13]],
  '4-6': [[40.33, 8.0], [40.414, 8.307], [40.51, 8.512], [40.578, 8.41], [40.632, 8.2], [40.673, 8.0], [40.69, 7.8], [40.3, 7.8]],
  '4-7': [[0.41, 8.0], [0.407, 8.307], [0.443, 8.486], [0.505, 8.563], [0.578, 8.512], [0.652, 8.307], [0.676, 8.0], [0.6, 7.8], [0.45, 7.8]],
  '5-6': [[40.455, -0.02], [40.4, 0.4], [40.42, 0.8], [40.445, 1.05], [40.55, 1.05], [40.565, 0.6], [40.55, 0.3], [40.51, -0.02]],
  '5-7': [[0.456, 0.0], [0.419, 0.47], [0.431, 1.05], [0.53, 1.05], [0.627, 0.8], [0.664, 0.506], [0.615, 0.278], [0.505, 0.0]],
  '6-7': [[0.333, 40.38], [0.37, 40.449], [0.505, 40.551], [0.676, 40.67], [0.713, 40.66], [0.627, 40.568], [0.48, 40.449], [0.357, 40.364]],
};

// ---------------- styling ----------------
const FONT = "'Liberation Serif', 'DejaVu Serif', serif";
const LW = 2.8;
const STYLE = {
  ST: { stroke: '#000000', strokeWidth: LW },
  PS: { stroke: '#ff0000', strokeWidth: LW, strokeDasharray: '10.4 4.5' },
  WZ: { stroke: '#0000ff', strokeWidth: LW, strokeDasharray: '17.9 4.5 2.8 4.5' },
  AN: { stroke: '#ff00ff', strokeWidth: LW, strokeDasharray: '2.8 4.6' },
  TK: { stroke: '#008080', strokeWidth: LW },
};

const PLOT_W = 141;
const PLOT_H = 140.5;
const PITCH = 148;
const LEFT0 = 97.5;
const TOP0 = 83.5;

// closed Catmull-Rom curve (passes through every contour point)
function closedSmooth(context: any) {
  let pts: number[][] = [];
  return {
    areaStart() {},
    areaEnd() {},
    lineStart() { pts = []; },
    point(x: number, y: number) { pts.push([+x, +y]); },
    lineEnd() {
      const n = pts.length;
      if (n === 0) return;
      context.moveTo(pts[0][0], pts[0][1]);
      for (let i = 0; i < n; i++) {
        const p0 = pts[(i - 1 + n) % n];
        const p1 = pts[i];
        const p2 = pts[(i + 1) % n];
        const p3 = pts[(i + 2) % n];
        const t = 1 / 6;
        context.bezierCurveTo(
          p1[0] + (p2[0] - p0[0]) * t, p1[1] + (p2[1] - p0[1]) * t,
          p2[0] - (p3[0] - p1[0]) * t, p2[1] - (p3[1] - p1[1]) * t,
          p2[0], p2[1],
        );
      }
      context.closePath();
    },
  };
}

function tickValues(p: number) {
  const n = Math.round((PARAM_MAX[p] - PARAM_MIN[p]) / PARAM_MINOR_STEP[p]);
  const out: number[] = [];
  for (let i = 0; i <= n; i++) out.push(Math.round((PARAM_MIN[p] + i * PARAM_MINOR_STEP[p]) * 1000) / 1000);
  return out;
}
const majorIndex = (p: number, v: number) => PARAM_MAJOR[p].findIndex((m) => Math.abs(m - v) < 1e-6);

const makeXTick = (p: number, showLabel: boolean) => (props: any) => {
  const { x, y, payload } = props;
  const mi = majorIndex(p, payload.value);
  const major = mi >= 0;
  return (
    <g>
      <line x1={x} x2={x} y1={y} y2={y + (major ? 5 : 2.6)} stroke="#000" strokeWidth={major ? 1.1 : 0.8} />
      {major && showLabel && X_TICK_LABELS[p][mi] ? (
        <text x={x} y={y + 27} textAnchor="middle" fontSize={18.5} fontFamily={FONT} fill="#000">{X_TICK_LABELS[p][mi]}</text>
      ) : null}
    </g>
  );
};
const makeYTick = (p: number, showLabel: boolean) => (props: any) => {
  const { x, y, payload } = props;
  const mi = majorIndex(p, payload.value);
  const major = mi >= 0;
  return (
    <g>
      <line x1={x} x2={x - (major ? 5 : 2.6)} y1={y} y2={y} stroke="#000" strokeWidth={major ? 1.1 : 0.8} />
      {major && showLabel ? (
        <text x={x - 11} y={y + 6} textAnchor="end" fontSize={18.5} fontFamily={FONT} fill="#000">{Y_TICK_LABELS[p][mi]}</text>
      ) : null}
    </g>
  );
};

const toObjs = (pts: Pt[]) => pts.map(([x, y]) => ({ x, y }));
const noSymbol = () => <g />;

function Panel({ r, c }: { r: number; c: number }) {
  const diag = r === c;
  const ML = c === 0 ? 97 : 8;
  const MB = r === 7 ? 40 : 8;
  const MT = 2;
  const MR = 2;
  const left = LEFT0 + PITCH * c - ML;
  const top = TOP0 + PITCH * r - MT;
  const xmin = PARAM_MIN[c], xmax = PARAM_MAX[c];
  const ymin = PARAM_MIN[r], ymax = PARAM_MAX[r];
  const key = `${r}-${c}`;

  const series: { pts: Pt[]; style: any; id: string }[] = [];
  if (diag) {
    series.push({ pts: ST_1D[r], style: STYLE.ST, id: 'st' });
    series.push({ pts: PS_1D[r], style: STYLE.PS, id: 'ps' });
    series.push({ pts: WATSON_1D[r], style: STYLE.WZ, id: 'wz' });
    series.push({ pts: ANGULO_1D[r], style: STYLE.AN, id: 'an' });
    series.push({ pts: TINKER_1D[r], style: STYLE.TK, id: 'tk' });
  } else if (r > c) {
    series.push({ pts: ST_2D[key], style: STYLE.ST, id: 'st' });
    series.push({ pts: PS_2D[key], style: STYLE.PS, id: 'ps' });
    series.push({ pts: WATSON_2D[key], style: STYLE.WZ, id: 'wz' });
  } else {
    const lower = ST_2D[`${c}-${r}`].map(([a, b]) => [b, a] as Pt);
    series.push({ pts: lower, style: STYLE.ST, id: 'st' });
    series.push({ pts: ANGULO_2D[key], style: STYLE.AN, id: 'an' });
    series.push({ pts: TINKER_2D[key], style: STYLE.TK, id: 'tk' });
  }

  return (
    <div style={{ position: 'absolute', left, top }}>
      <ComposedChart width={ML + PLOT_W + MR} height={MT + PLOT_H + MB} margin={{ top: MT, right: MR, left: 0, bottom: 0 }}>
        {diag && <CartesianGrid xAxisId="x" yAxisId="y" fill="#f2f2f2" horizontal={false} vertical={false} />}
        <XAxis
          xAxisId="x" type="number" dataKey="x" domain={[xmin, xmax]} allowDataOverflow
          ticks={tickValues(c)} interval={0} height={MB} tickSize={0} tickMargin={0}
          axisLine={false} tickLine={false} tick={makeXTick(c, r === 7)}
        />
        <YAxis
          yAxisId="y" type="number" dataKey="y" domain={[ymin, ymax]} allowDataOverflow
          ticks={tickValues(r)} interval={0} width={ML} tickSize={0} tickMargin={0}
          axisLine={false} tickLine={false} tick={r === 0 && c === 0 ? false : makeYTick(r, c === 0)}
        />
        {diag && <YAxis yAxisId="p" type="number" dataKey="y" domain={[0, 1]} allowDataOverflow hide />}
        {series.map((s) => (
          <Scatter
            key={s.id}
            data={toObjs(s.pts)}
            xAxisId="x"
            yAxisId={diag ? 'p' : 'y'}
            shape={noSymbol}
            line={s.style}
            lineType="joint"
            lineJointType={diag ? 'monotoneX' : (closedSmooth as any)}
            isAnimationActive={false}
          />
        ))}
        <ReferenceLine xAxisId="x" yAxisId="y" x={PARAM_FID[c]} stroke="#000" strokeWidth={1.1} strokeDasharray="4.2 2.4" />
        {!diag && <ReferenceLine xAxisId="x" yAxisId="y" y={PARAM_FID[r]} stroke="#000" strokeWidth={1.1} strokeDasharray="4.2 2.4" />}
        {!diag && <ReferenceDot xAxisId="x" yAxisId="y" x={PARAM_FID[c]} y={PARAM_FID[r]} r={2.2} fill="#000" stroke="none" />}
        <ReferenceArea xAxisId="x" yAxisId="y" x1={xmin} x2={xmax} y1={ymin} y2={ymax} fill="none" fillOpacity={0} stroke="#000" strokeWidth={1.4} />
      </ComposedChart>
    </div>
  );
}

// ---------------- axis labels (math text) ----------------
const SUB = 6;
function labelSpans(p: number) {
  const sub = (t: string, k: string) => <tspan key={k} dy={SUB} fontSize="0.7em">{t}</tspan>;
  const up = (t: string, k: string) => <tspan key={k} dy={-SUB}>{t}</tspan>;
  const it = (t: string, k: string) => <tspan key={k} fontStyle="italic">{t}</tspan>;
  switch (p) {
    case 0: return [<tspan key="a">log</tspan>, sub('10', 'b'), up('(', 'c'), it('f', 'd'), sub('∗,10', 'e'), up(')', 'f')];
    case 1: return [it('α', 'a'), sub('∗', 'b')];
    case 2: return [<tspan key="a">log</tspan>, sub('10', 'b'), up('(', 'c'), it('f', 'd'), sub('esc,10', 'e'), up(')', 'f')];
    case 3: return [it('α', 'a'), sub('esc', 'b')];
    case 4: return [<tspan key="a">log</tspan>, sub('10', 'b'), up('(', 'c'), it('M', 'd'), sub('turn', 'e'), up(')', 'f')];
    case 5: return [it('t', 'a'), sub('∗', 'b')];
    case 7: return [it('E', 'a'), sub('0', 'b')];
    default: return [];
  }
}

function LxLabel({ cx, cy, rotate }: { cx: number; cy: number; rotate: number }) {
  return (
    <g transform={`translate(${cx},${cy}) rotate(${rotate})`} fontFamily={FONT} fill="#000">
      <text x={-12} y={0} textAnchor="end" fontSize={24}>
        <tspan>log</tspan><tspan dy={SUB} fontSize="0.7em">10</tspan><tspan dy={-SUB}>(</tspan>
      </text>
      <text x={20} y={-11} textAnchor="middle" fontSize={17}>
        <tspan fontStyle="italic">L</tspan>
        <tspan dy={3} fontSize={12}><tspan fontStyle="italic">X</tspan>{'<2keV'}</tspan>
      </text>
      <line x1={-10} x2={50} y1={-6} y2={-6} stroke="#000" strokeWidth={1} />
      <text x={20} y={11} textAnchor="middle" fontSize={15}>SFR</text>
      <text x={52} y={0} fontSize={24}>)</text>
    </g>
  );
}

function AxisLabels() {
  const items: React.ReactNode[] = [];
  for (let p = 0; p < 8; p++) {
    const cx = LEFT0 + PITCH * p + PLOT_W / 2;
    if (p === 6) {
      items.push(<LxLabel key={`bx${p}`} cx={cx - 2} cy={1316} rotate={0} />);
    } else {
      items.push(
        <text key={`bx${p}`} x={cx} y={1316} textAnchor="middle" fontSize={24} fontFamily={FONT} fill="#000">{labelSpans(p)}</text>,
      );
    }
  }
  for (let p = 1; p < 8; p++) {
    const cy = TOP0 + PITCH * p + PLOT_H / 2;
    if (p === 6) {
      items.push(<LxLabel key={`ly${p}`} cx={37} cy={cy} rotate={-90} />);
    } else {
      items.push(
        <text key={`ly${p}`} x={37} y={cy} transform={`rotate(-90 37 ${cy})`} textAnchor="middle" fontSize={24} fontFamily={FONT} fill="#000">{labelSpans(p)}</text>,
      );
    }
  }
  return (
    <svg width={1288} height={1329} style={{ position: 'absolute', left: 0, top: 0, pointerEvents: 'none' }}>
      {items}
    </svg>
  );
}

function LegendBlock() {
  const entries = [
    { label: 'ST', x: 118, y: 14, stroke: '#000000', dash: undefined as string | undefined, z: false },
    { label: 'PS', x: 118, y: 46, stroke: '#ff0000', dash: '14.8 6.4', z: false },
    { label: 'Watson-', x: 532, y: 14, stroke: '#0000ff', dash: '25.6 6.4 4 6.4', z: true },
    { label: 'Angulo', x: 532, y: 46, stroke: '#ff00ff', dash: '4 6.6', z: false },
    { label: 'Tinker', x: 910, y: 14, stroke: '#008080', dash: '12 4 4 4 4 4', z: false },
  ];
  return (
    <svg width={1288} height={80} style={{ position: 'absolute', left: 0, top: 0 }}>
      {entries.map((e) => (
        <g key={e.label}>
          <line x1={e.x} x2={e.x + 64} y1={e.y} y2={e.y} stroke={e.stroke} strokeWidth={4} strokeDasharray={e.dash} />
          <text x={e.x + 73} y={e.y + 9} fontSize={26} fontFamily={FONT} fill="#000">
            {e.label}{e.z ? <tspan fontStyle="italic">z</tspan> : null}
          </text>
        </g>
      ))}
    </svg>
  );
}

export default function App() {
  const cells: React.ReactNode[] = [];
  for (let r = 0; r < 8; r++) {
    for (let c = 0; c < 8; c++) {
      cells.push(<Panel key={`${r}-${c}`} r={r} c={c} />);
    }
  }
  return (
    <div style={{ position: 'absolute', left: 0, top: 0, width: 1288, height: 1329, background: '#ffffff', fontFamily: FONT }}>
      <LegendBlock />
      {cells}
      <AxisLabels />
    </div>
  );
}
